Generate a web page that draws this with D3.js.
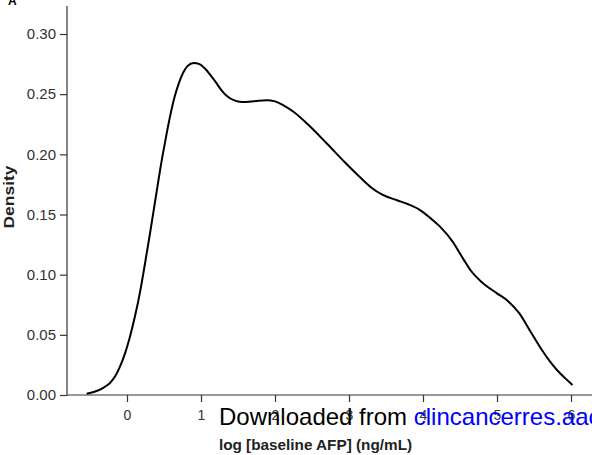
<!DOCTYPE html>
<html>
<head>
<meta charset="utf-8">
<script src="https://cdn.jsdelivr.net/npm/d3@7"></script>
<style>
  html, body { margin: 0; padding: 0; background: #fff; }
  svg { display: block; font-family: "Liberation Sans", Arial, Helvetica, sans-serif; }
</style>
</head>
<body>
<svg id="chart" width="592" height="455"></svg>
<script>
// Density curve (x = log baseline AFP, y = density)
const logAFP = [-0.545, -0.45, -0.365, -0.30, -0.23, -0.16, -0.095, -0.03, 0.04, 0.11, 0.176, 0.24, 0.31, 0.38, 0.45, 0.52, 0.58, 0.64, 0.70, 0.76, 0.82, 0.90, 0.98, 1.05, 1.12, 1.20, 1.28, 1.35, 1.45, 1.55, 1.65, 1.78, 1.89, 2.00, 2.12, 2.25, 2.45, 2.70, 2.95, 3.15, 3.30, 3.45, 3.64, 3.80, 3.96, 4.10, 4.23, 4.40, 4.55, 4.64, 4.80, 5.00, 5.15, 5.30, 5.45, 5.60, 5.72, 5.81, 5.92, 6.02];
const density = [0.001, 0.0025, 0.0045, 0.0068, 0.0100, 0.0155, 0.0235, 0.034, 0.0485, 0.066, 0.0855, 0.108, 0.134, 0.161, 0.188, 0.212, 0.231, 0.247, 0.259, 0.268, 0.2735, 0.2760, 0.2750, 0.2715, 0.2665, 0.2600, 0.2530, 0.2485, 0.2448, 0.2435, 0.2437, 0.2446, 0.2449, 0.2440, 0.2405, 0.2354, 0.2245, 0.209, 0.193, 0.1809, 0.1725, 0.1665, 0.162, 0.1585, 0.1537, 0.147, 0.1399, 0.1275, 0.1125, 0.1039, 0.0935, 0.0845, 0.078, 0.068, 0.053, 0.038, 0.0275, 0.0208, 0.0140, 0.0083];
const xTicks = [0, 1, 2, 3, 4, 5, 6];
const yTicks = [0.00, 0.05, 0.10, 0.15, 0.20, 0.25, 0.30];
const panelLabel = "A";
const xTitle = "log [baseline AFP] (ng/mL)";
const yTitle = "Density";
const watermarkA = "Downloaded from ";
const watermarkB = "clincancerres.aacrjournals.org";

const svg = d3.select("#chart");
const x = d3.scaleLinear().domain([0, 6]).range([127, 571]);
const y = d3.scaleLinear().domain([0, 0.30]).range([395, 34]);

const axisColor = "#333";

// Y axis
const yAxis = svg.append("g").attr("transform", "translate(67,0)")
  .call(d3.axisLeft(y).tickValues(yTicks).tickFormat(d3.format(".2f")).tickSize(7).tickPadding(4).tickSizeOuter(0));
yAxis.select(".domain").remove();
yAxis.append("line").attr("x1", 0).attr("x2", 0).attr("y1", 6).attr("y2", 395.5)
  .attr("stroke", axisColor).attr("stroke-width", 1.2);
yAxis.selectAll(".tick line").attr("stroke", axisColor).attr("stroke-width", 1.2);
yAxis.selectAll(".tick text").attr("fill", axisColor).style("font-size", "15px")
  .style("font-family", "'Liberation Sans', Arial, sans-serif");

// X axis
const xAxis = svg.append("g").attr("transform", "translate(0,395)")
  .call(d3.axisBottom(x).tickValues(xTicks).tickFormat(d3.format("d")).tickSize(7).tickPadding(8).tickSizeOuter(0));
xAxis.select(".domain").remove();
xAxis.append("line").attr("x1", 67).attr("x2", 592).attr("y1", 0).attr("y2", 0)
  .attr("stroke", axisColor).attr("stroke-width", 1.2);
xAxis.selectAll(".tick line").attr("stroke", axisColor).attr("stroke-width", 1.2);
xAxis.selectAll(".tick text").attr("fill", axisColor).style("font-size", "14px")
  .style("font-family", "'Liberation Sans', Arial, sans-serif");

// Density curve
const pts = logAFP.map((v, i) => [v, density[i]]);
const line = d3.line().x(d => x(d[0])).y(d => y(d[1])).curve(d3.curveMonotoneX);
svg.append("path").datum(pts).attr("d", line)
  .attr("fill", "none").attr("stroke", "#000").attr("stroke-width", 2);

// Titles
svg.append("text").attr("x", 315.5).attr("y", 450).attr("text-anchor", "middle")
  .attr("font-weight", "bold").attr("font-size", "15.3px").attr("fill", "#222").text(xTitle);
svg.append("text").attr("transform", "translate(14,197) rotate(-90)").attr("text-anchor", "middle")
  .attr("font-weight", "bold").attr("font-size", "14.5px").attr("fill", "#222")
  .attr("textLength", 63).attr("lengthAdjust", "spacingAndGlyphs").text(yTitle);
svg.append("text").attr("x", 8).attr("y", 5).attr("font-weight", "bold")
  .attr("font-size", "12px").attr("fill", "#000").text(panelLabel);

// Watermark
const wm = svg.append("text").attr("x", 219).attr("y", 425).attr("font-size", "24px");
wm.append("tspan").attr("fill", "#000").text(watermarkA);
wm.append("tspan").attr("fill", "#0000ff").text(watermarkB);
</script>
</body>
</html>
